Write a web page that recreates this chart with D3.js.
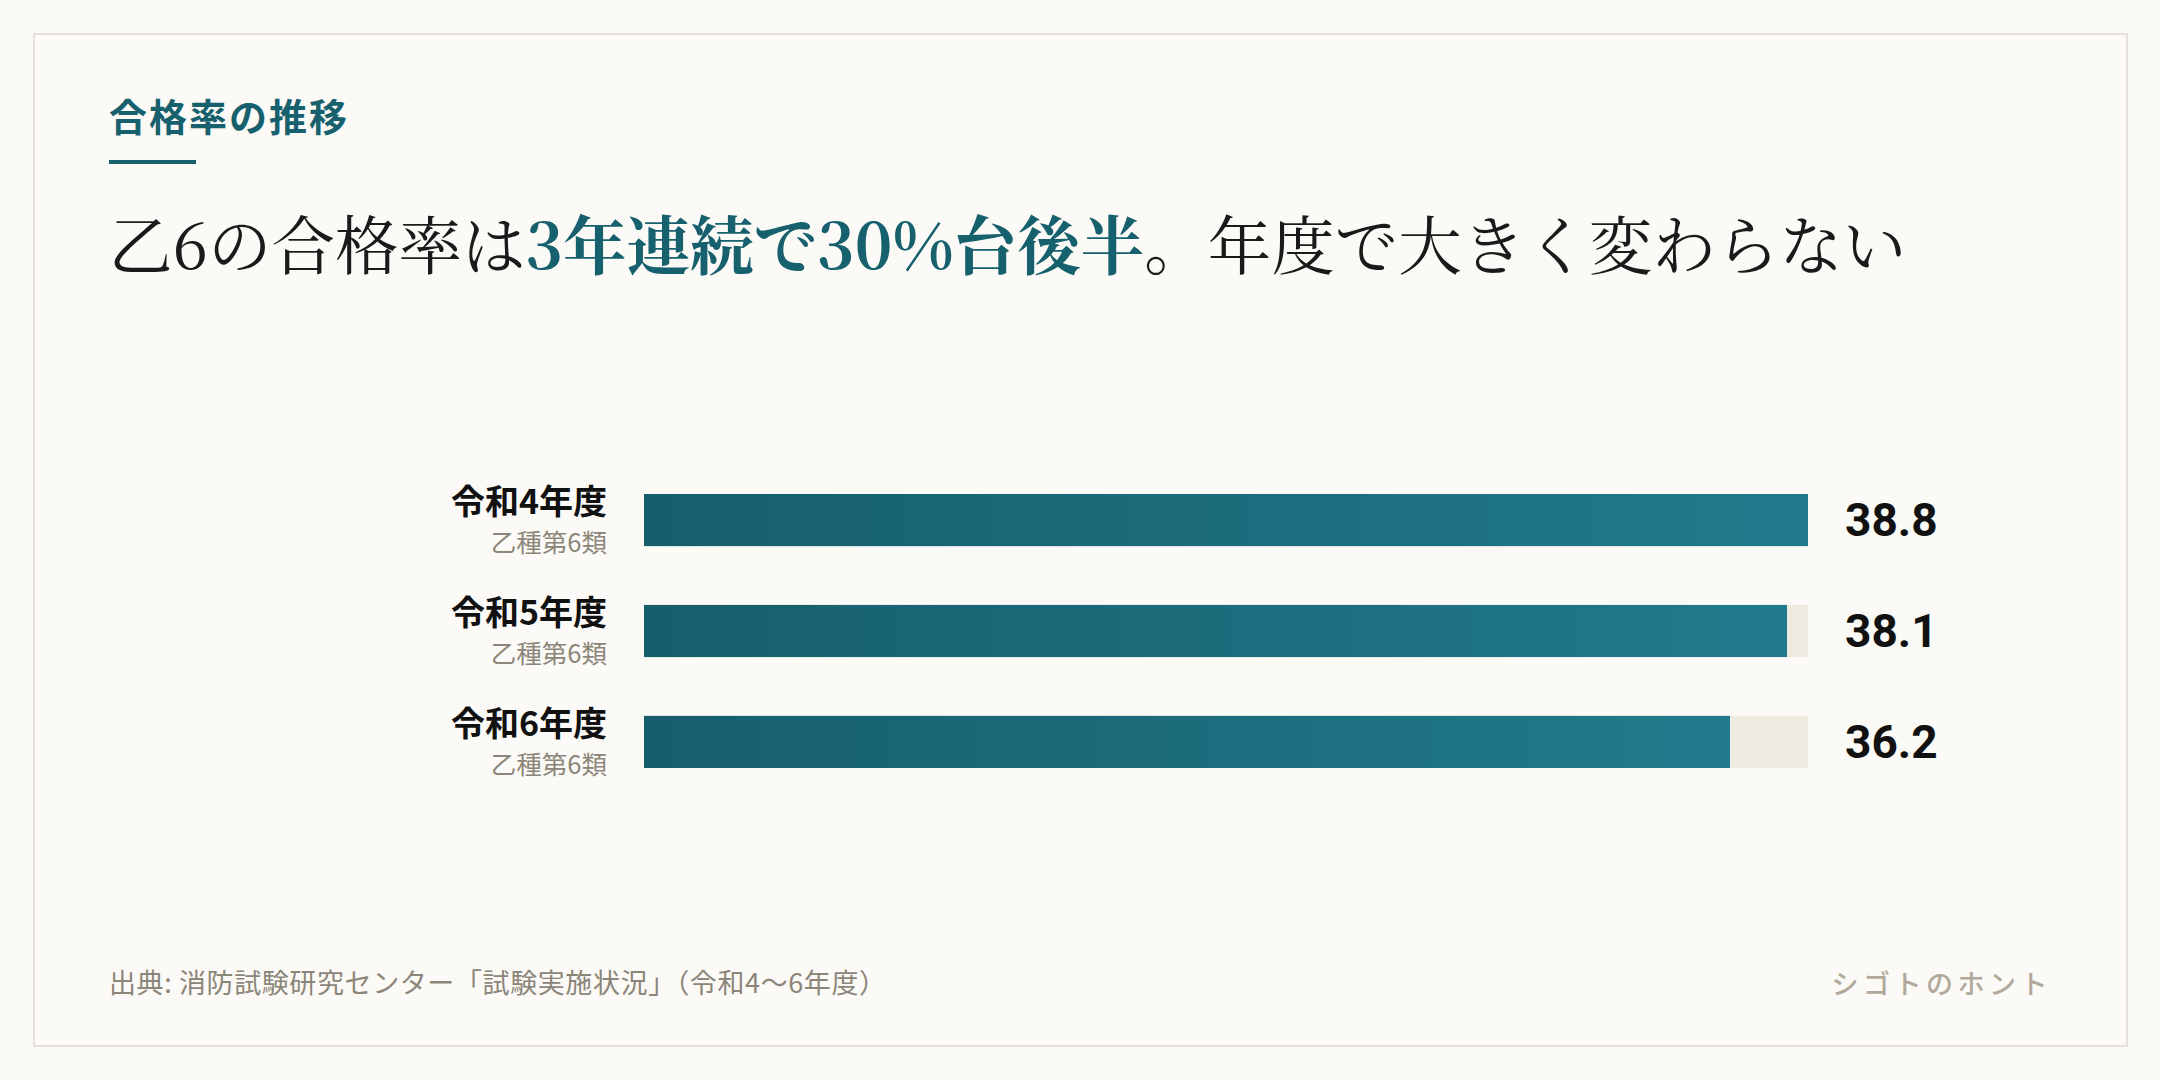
<!DOCTYPE html>
<html lang="ja">
<head>
<meta charset="utf-8">
<script src="https://cdn.jsdelivr.net/npm/d3@7"></script>
<style>
  html, body { margin: 0; padding: 0; background: #fbfaf6; }
  svg { display: block; }
</style>
</head>
<body>
<div id="chart"></div>
<script>
// data
const years = ["令和4年度", "令和5年度", "令和6年度"];
const subLabels = ["乙種第6類", "乙種第6類", "乙種第6類"];
const passRates = [38.8, 38.1, 36.2];

const W = 2160, H = 1080;
const sans = '"Noto Sans CJK JP", "Noto Sans", sans-serif';
const serif = '"Noto Serif CJK JP", "Noto Serif JP", "IPAMincho", serif';

const svg = d3.select("#chart")
  .append("svg")
  .attr("width", W)
  .attr("height", H);

const defs = svg.append("defs");
const grad = defs.append("linearGradient")
  .attr("id", "barGrad")
  .attr("x1", "0%").attr("x2", "100%")
  .attr("y1", "0%").attr("y2", "0%");
grad.append("stop").attr("offset", "0%").attr("stop-color", "#175e6c");
grad.append("stop").attr("offset", "100%").attr("stop-color", "#217b8c");

// page + card
svg.append("rect").attr("width", W).attr("height", H).attr("fill", "#fbfaf6");
svg.append("rect")
  .attr("x", 34).attr("y", 34)
  .attr("width", 2093).attr("height", 1012)
  .attr("fill", "#fbfaf6")
  .attr("stroke", "#e6e1d6")
  .attr("stroke-width", 2);

// eyebrow title
svg.append("text")
  .attr("x", 109).attr("y", 131)
  .attr("font-family", sans)
  .attr("font-size", 38)
  .attr("font-weight", 700)
  .attr("letter-spacing", 2)
  .attr("fill", "#17606e")
  .text("合格率の推移");
svg.append("rect")
  .attr("x", 109).attr("y", 160)
  .attr("width", 87).attr("height", 4)
  .attr("fill", "#17606e");

// headline
const headline = svg.append("text")
  .attr("x", 109).attr("y", 269)
  .attr("font-family", serif)
  .attr("font-size", 63.5)
  .attr("fill", "#1a1a1a");
headline.append("tspan").text("乙6の合格率は");
headline.append("tspan").attr("fill", "#17606e").attr("font-weight", 700).text("3年連続で30%台後半");
headline.append("tspan").text("。年度で大きく変わらない");

// scales
const y = d3.scaleBand()
  .domain(years)
  .range([494, 768])
  .paddingInner(0.53);

const x = d3.scaleLinear()
  .domain([0, d3.max(passRates)])
  .range([644, 1808]);

const rows = svg.selectAll(".row")
  .data(years.map((d, i) => ({ year: d, sub: subLabels[i], v: passRates[i] })))
  .join("g")
  .attr("class", "row");

// track
rows.append("rect")
  .attr("x", x(0))
  .attr("y", d => y(d.year))
  .attr("width", x.range()[1] - x(0))
  .attr("height", y.bandwidth())
  .attr("fill", "#efebe1");

// value bar
rows.append("rect")
  .attr("x", x(0))
  .attr("y", d => y(d.year))
  .attr("width", d => x(d.v) - x(0))
  .attr("height", y.bandwidth())
  .attr("fill", "url(#barGrad)");

// labels
rows.append("text")
  .attr("x", 607)
  .attr("y", d => y(d.year) + y.bandwidth() / 2 - 6)
  .attr("text-anchor", "end")
  .attr("font-family", sans)
  .attr("font-size", 34)
  .attr("font-weight", 700)
  .attr("fill", "#111")
  .text(d => d.year);

rows.append("text")
  .attr("x", 607)
  .attr("y", d => y(d.year) + y.bandwidth() / 2 + 32)
  .attr("text-anchor", "end")
  .attr("font-family", sans)
  .attr("font-size", 25.5)
  .attr("fill", "#8c8579")
  .text(d => d.sub);

rows.append("text")
  .attr("x", 1845)
  .attr("y", d => y(d.year) + y.bandwidth() / 2 + 16)
  .attr("font-family", 'Roboto, "Noto Sans", sans-serif')
  .attr("font-size", 46)
  .attr("font-weight", 700)
  .attr("fill", "#111")
  .text(d => d3.format(".1f")(d.v));

// footer
svg.append("text")
  .attr("x", 109).attr("y", 993)
  .attr("font-family", sans)
  .attr("font-size", 27)
  .attr("letter-spacing", 0.6)
  .attr("fill", "#8c8579")
  .text("出典: 消防試験研究センター「試験実施状況」（令和4〜6年度）");

svg.append("text")
  .attr("x", 2052).attr("y", 994)
  .attr("text-anchor", "end")
  .attr("font-family", sans)
  .attr("font-size", 27)
  .attr("font-weight", 500)
  .attr("letter-spacing", 4.5)
  .attr("fill", "#b0a99c")
  .text("シゴトのホント");
</script>
</body>
</html>
